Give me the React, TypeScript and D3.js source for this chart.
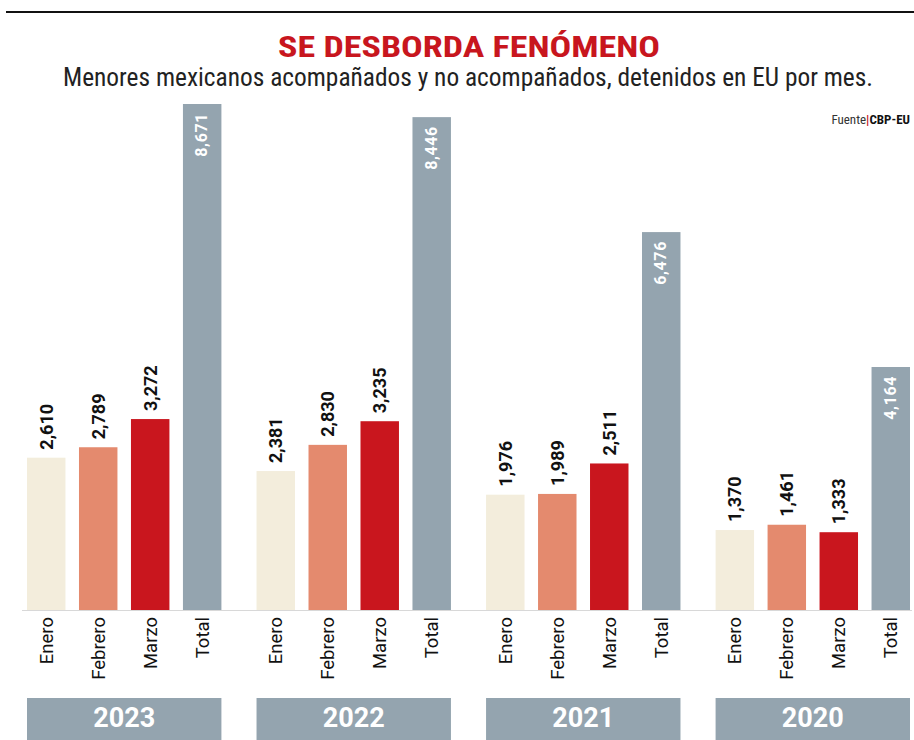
import React from "react";
import * as d3 from "d3";

const years = ["2023", "2022", "2021", "2020"];
const categories = ["Enero", "Febrero", "Marzo", "Total"];
const enero = [2610, 2381, 1976, 1370];
const febrero = [2789, 2830, 1989, 1461];
const marzo = [3272, 3235, 2511, 1333];
const total = [8671, 8446, 6476, 4164];

const colors: Record<string, string> = {
  Enero: "#f3eddc",
  Febrero: "#e48a6e",
  Marzo: "#c9161e",
  Total: "#94a4af",
};

const W = 914;
const H = 740;
const NARROW = "'Roboto Condensed', 'Liberation Sans Narrow', Roboto, sans-serif";
const SANS = "Roboto, 'Noto Sans', sans-serif";

export default function App() {
  const series = [enero, febrero, marzo, total];
  const x0 = d3.scaleBand<string>().domain(years).range([27, 910]).paddingInner(0.153);
  const x1 = d3.scaleBand<string>().domain(categories).range([0, x0.bandwidth()]).paddingInner(0.26);
  const y = d3.scaleLinear().domain([0, d3.max(total) as number]).range([610, 104]);
  const fmt = d3.format(",");

  return (
    <div style={{ position: "absolute", left: 0, top: 0 }}>
      <svg width={W} height={H} style={{ display: "block", background: "#fff" }} fontFamily={SANS}>
        <line x1={6} x2={914} y1={12} y2={12} stroke="#111" strokeWidth={2} />
        <text x={469} y={57} textAnchor="middle" fill="#c8161e" fontWeight="bold" fontSize={29} fontFamily={NARROW} textLength={382} lengthAdjust="spacingAndGlyphs">
          SE DESBORDA FENÓMENO
        </text>
        <text x={468} y={86} textAnchor="middle" fill="#222" fontSize={25} fontFamily={NARROW} textLength={810} lengthAdjust="spacingAndGlyphs">
          Menores mexicanos acompañados y no acompañados, detenidos en EU por mes.
        </text>
        <text x={910} y={124} textAnchor="end" fontSize={13} fontFamily={NARROW}>
          <tspan fill="#333">Fuente</tspan>
          <tspan fill="#c8161e" fontWeight="bold">|</tspan>
          <tspan fill="#111" fontWeight="bold">CBP-EU</tspan>
        </text>

        {years.map((yr, gi) => {
          const gx = x0(yr) as number;
          return (
            <g key={yr} transform={`translate(${gx},0)`}>
              {categories.map((cat, ci) => {
                const v = series[ci][gi];
                const bx = x1(cat) as number;
                const bw = x1.bandwidth();
                const top = y(v);
                const cx = bx + bw / 2;
                const isTotal = cat === "Total";
                return (
                  <g key={cat}>
                    <rect x={bx} y={top} width={bw} height={y(0) - top} fill={colors[cat]} />
                    {isTotal ? (
                      <text
                        transform={`translate(${cx + 5},${top + 9}) rotate(-90)`}
                        textAnchor="end"
                        fill="#fff"
                        fontWeight="bold"
                        fontSize={16}
                        letterSpacing={0.6}
                      >
                        {fmt(v)}
                      </text>
                    ) : (
                      <text
                        transform={`translate(${cx + 6.5},${top - 8}) rotate(-90)`}
                        textAnchor="start"
                        fill="#111"
                        fontWeight="bold"
                        fontSize={18}
                      >
                        {fmt(v)}
                      </text>
                    )}
                    <text
                      transform={`translate(${cx + 6.5},${617}) rotate(-90)`}
                      textAnchor="end"
                      fill="#111"
                      fontSize={18.5}
                    >
                      {cat}
                    </text>
                  </g>
                );
              })}
              <rect x={0} y={698} width={x0.bandwidth()} height={42} fill="#94a4af" />
              <text x={x0.bandwidth() / 2} y={727} textAnchor="middle" fill="#fff" fontWeight="bold" fontSize={27}>
                {yr}
              </text>
            </g>
          );
        })}
        <line x1={22} x2={912} y1={610.5} y2={610.5} stroke="#d8d8d8" strokeWidth={1} />
      </svg>
    </div>
  );
}
